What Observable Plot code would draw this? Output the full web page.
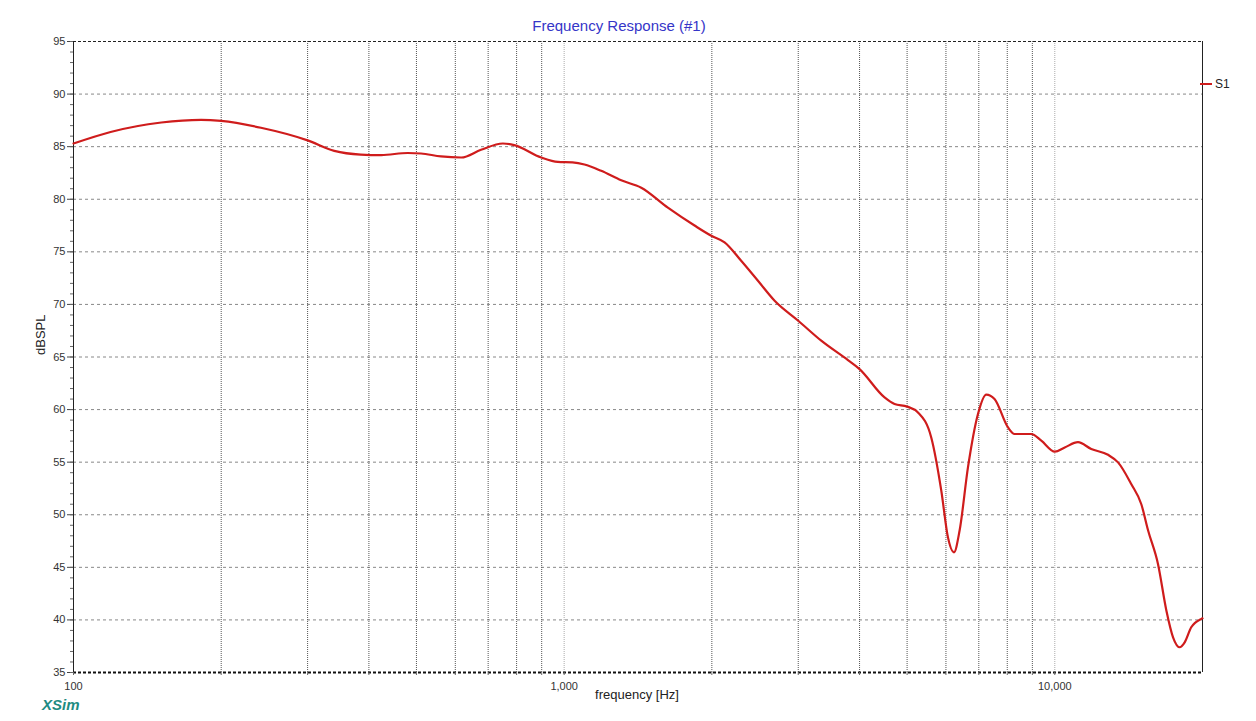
<!DOCTYPE html>
<html>
<head>
<meta charset="utf-8">
<script src="https://cdn.jsdelivr.net/npm/d3@7"></script>
<script src="https://cdn.jsdelivr.net/npm/@observablehq/plot@0.6"></script>
<style>
  html, body { margin: 0; padding: 0; background: #fff; }
  #wrap { position: relative; width: 1256px; height: 721px; font-family: "Liberation Sans", Arial, sans-serif; }
  #title { position: absolute; left: 0; width: 1238px; top: 17px; text-align: center; color: #3535c8; font-size: 15px; }
  #legend { position: absolute; left: 1200px; top: 77px; font-size: 12px; color: #222; display: flex; align-items: center; }
  #legend span.sw { display: inline-block; width: 12px; height: 2px; background: #cf1c1c; margin-right: 3px; }
  #brand { position: absolute; left: 42px; top: 696px; color: #1f8c82; font-weight: bold; font-style: italic; font-size: 15px; }
</style>
</head>
<body>
<div id="wrap">
  <div id="chart"></div>
  <div id="title">Frequency Response (#1)</div>
  <div id="legend"><span class="sw"></span>S1</div>
  <div id="brand">XSim</div>
</div>
<script>
const freq = [100,119,151,182,200,241,300,340,385,424,480,511,561,617,677,750,791,898,971,1040,1100,1190,1307,1436,1627,1844,2000,2123,2295,2483,2685,3000,3342,3788,4000,4498,4714,5000,5262,5600,5870,6057,6230,6397,6653,6973,7250,7536,8029,8279,8955,9387,10000,10477,11150,11866,12838,13455,14323,15009,15495,16233,16880,17418,17970,18396,18970,19893,20000];
const spl = [85.3,86.4,87.3,87.55,87.45,86.8,85.6,84.6,84.25,84.2,84.4,84.35,84.07,83.97,84.7,85.3,85.15,83.97,83.55,83.5,83.3,82.7,81.8,81.1,79.2,77.5,76.5,75.9,74.15,72.25,70.35,68.45,66.55,64.7,63.85,61.16,60.53,60.28,59.73,57.35,52.3,47.85,46.43,48.5,54.5,59.58,61.42,61.0,58.3,57.68,57.68,57.04,56.0,56.4,56.9,56.25,55.7,54.98,52.9,51.0,48.5,45.3,40.9,38.35,37.4,37.87,39.3,40.1,40.15];
const yMajor = [35,40,45,50,55,60,65,70,75,80,85,90,95];
const yMinor = d3.range(35, 96, 1);
const xMinorGrid = [200,300,400,500,600,700,800,900,2000,3000,4000,5000,6000,7000,8000,9000];
const xDecadeGrid = [1000,10000];
const xLabels = [100,1000,10000];
const xAllTicks = [100,200,300,400,500,600,700,800,900,1000,2000,3000,4000,5000,6000,7000,8000,9000,10000];

const data = freq.map((f, i) => ({f, db: spl[i]}));

const chart = Plot.plot({
  width: 1256,
  height: 721,
  marginLeft: 73,
  marginRight: 54,
  marginTop: 41,
  marginBottom: 49,
  style: {fontFamily: "Liberation Sans, Arial, sans-serif", fontSize: "11px", color: "#333", background: "#fff"},
  x: {type: "log", domain: [100, 20000]},
  y: {domain: [35, 95]},
  marks: [
    Plot.ruleY(yMajor.filter(d => d > 35 && d < 95), {stroke: "#888", strokeDasharray: "3,3", strokeWidth: 1}),
    Plot.ruleX(xMinorGrid, {stroke: "#555", strokeDasharray: "1,1", strokeWidth: 1}),
    Plot.ruleX(xDecadeGrid, {stroke: "#aaa", strokeDasharray: "1,1", strokeWidth: 1}),
    Plot.ruleY([95], {stroke: "#222", strokeDasharray: "3,2", strokeWidth: 1}),
    Plot.ruleY([35], {stroke: "#111", strokeDasharray: "3,2", strokeWidth: 2}),
    Plot.ruleX([100, 20000], {stroke: "#222", strokeWidth: 1}),
    Plot.axisY(yMajor, {tickSize: 6, tickPadding: 2, fontSize: 11, label: null, stroke: "#444"}),
    Plot.axisY(yMinor, {tickSize: 3, tickFormat: () => "", label: null, stroke: "#666"}),
    Plot.axisX(xAllTicks, {tickSize: 3, tickFormat: () => "", label: null, stroke: "#666"}),
    Plot.axisX(xLabels, {tickSize: 0, tickPadding: 10, tickFormat: d3.format(","), fontSize: 11, label: null}),
    Plot.text(["dBSPL"], {frameAnchor: "left", dx: -33, dy: -2, rotate: -90, fontSize: 13, fill: "#222"}),
    Plot.text(["frequency [Hz]"], {frameAnchor: "bottom", dx: -1, dy: 26, fontSize: 13, fill: "#222"}),
    Plot.line(data, {x: "f", y: "db", stroke: "#cf1c1c", strokeWidth: 2.2, curve: "monotone-x"})
  ]
});
document.getElementById("chart").appendChild(chart);
</script>
</body>
</html>
